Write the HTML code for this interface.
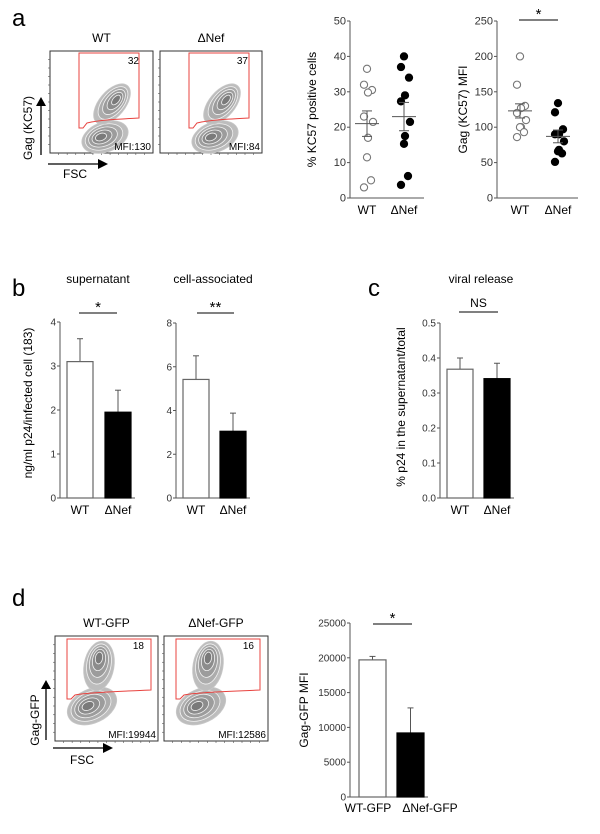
<!DOCTYPE html>
<html><head><meta charset="utf-8"><style>
body{margin:0;background:#fff}
svg{display:block;font-family:"Liberation Sans",Arial,sans-serif}
</style></head><body>
<svg id="fig" width="600" height="834" viewBox="0 0 600 834" xmlns="http://www.w3.org/2000/svg">
<g id="root"></g>
</svg>
<script>
// ---- data ----
var scatterCats = ["WT", "\u0394Nef"];
var kcWT = [36.5, 32, 30.5, 29.8, 23, 21.5, 17, 11.5, 5, 3];
var kcNef = [40, 37, 34, 29, 27.3, 21.5, 17.5, 15.3, 6.2, 3.7];
var kcMean = [21, 23];
var kcSem = [3.6, 4];
var kcTicks = [0, 10, 20, 30, 40, 50];
var mfiWT = [200, 160, 130, 127, 120, 110, 100, 100, 93, 86];
var mfiNef = [134, 121, 97, 90, 90, 80, 68, 66, 63, 51];
var mfiMean = [123, 87];
var mfiSem = [10, 9];
var mfiTicks = [0, 50, 100, 150, 200, 250];
var supVals = [3.1, 1.95];
var supErr = [0.52, 0.5];
var supTicks = [0, 1, 2, 3, 4];
var cellVals = [5.42, 3.05];
var cellErr = [1.08, 0.83];
var cellTicks = [0, 2, 4, 6, 8];
var relVals = [0.368, 0.341];
var relErr = [0.032, 0.044];
var relTicks = ["0.0", "0.1", "0.2", "0.3", "0.4", "0.5"];
var gfpCats = ["WT-GFP", "\u0394Nef-GFP"];
var gfpVals = [19700, 9200];
var gfpErr = [500, 3600];
var gfpTicks = [0, 5000, 10000, 15000, 20000, 25000];

var NS = "http://www.w3.org/2000/svg";
var root = document.getElementById('root');
function mk(tag, attrs, parent, text) {
  var e = document.createElementNS(NS, tag);
  for (var k in attrs) e.setAttribute(k, attrs[k]);
  if (text !== undefined) e.textContent = text;
  (parent || root).appendChild(e);
  return e;
}
function txt(x, y, s, size, anchor, name, extra) {
  var t = mk('text', {x: x, y: y, 'font-size': size, 'text-anchor': anchor || 'middle', fill: '#000'}, null, s);
  
  
  if (extra) for (var k in extra) t.setAttribute(k, extra[k]);
  return t;
}
function line(x1, y1, x2, y2, c, w, name) {
  var l = mk('line', {x1: x1, y1: y1, x2: x2, y2: y2, stroke: c, 'stroke-width': w});
  
  
  return l;
}

// panel letters
txt(12, 26, 'a', 24, 'start', 'panel-label-a');
txt(12, 296, 'b', 24, 'start', 'panel-label-b');
txt(368, 296, 'c', 24, 'start', 'panel-label-c');
txt(12, 606, 'd', 24, 'start', 'panel-label-d');

// ---- flow plots ----
var shades = ['#bdbdbd', '#acacac', '#9c9c9c', '#8c8c8c', '#7a7a7a'];
function flow(x0, y0, w, h, gate, blobs, pct, mfi, title, name) {
  var g = mk('g', {});
  
  
  mk('rect', {x: x0, y: y0, width: w, height: h, fill: '#fff', stroke: '#333', 'stroke-width': 1}, g);
  for (var i = 1; i < 12; i++) {
    mk('line', {x1: x0 + i * w / 12, y1: y0 + h, x2: x0 + i * w / 12, y2: y0 + h + 2, stroke: '#555', 'stroke-width': 0.6}, g);
    mk('line', {x1: x0 - 2, y1: y0 + i * h / 12, x2: x0, y2: y0 + i * h / 12, stroke: '#555', 'stroke-width': 0.6}, g);
  }
  blobs.forEach(function (b) {
    for (var k = 0; k < 5; k++) {
      var s = 1 - k * 0.19;
      var ox = b[5] ? b[5] * k : 0, oy = b[6] ? b[6] * k : 0;
      mk('ellipse', {cx: b[0] + ox, cy: b[1] + oy, rx: b[2] * s, ry: b[3] * s, transform: 'rotate(' + b[4] + ' ' + (b[0] + ox) + ' ' + (b[1] + oy) + ')',
        fill: shades[k], stroke: k === 0 ? '#c8c8c8' : '#f2f2f2', 'stroke-width': 0.8}, g);
    }
  });
  mk('path', {d: gate, fill: 'none', stroke: '#e8433f', 'stroke-width': 1}, g);
  mk('text', {x: x0 + w - 14, y: y0 + 13, 'font-size': 10, 'text-anchor': 'end'}, g, pct);
  mk('text', {x: x0 + w - 2, y: y0 + h - 3, 'font-size': 10, 'text-anchor': 'end'}, g, mfi);
  txt(x0 + w / 2, y0 - 9, title, 12, 'middle', name + '-title');
}
function gatePath(dx, x1, x2, top, br, bl) {
  return 'M' + (x1 + dx) + ',' + top + ' L' + (x2 + dx) + ',' + top + ' L' + (x2 + dx) + ',' + br +
    ' C' + (x2 + dx - 20) + ',' + (br + 1) + ' ' + (x1 + dx + 20) + ',' + (br + 2) + ' ' + (x1 + dx + 8) + ',' + (br + 5) +
    ' L' + (x1 + dx + 4) + ',' + bl + ' L' + (x1 + dx) + ',' + bl + ' Z';
}
flow(50, 51, 103, 102, gatePath(0, 79, 139, 53, 118, 128),
  [[105, 137, 24, 15, -20, -1, 0], [112, 104, 24, 13, -50, 1, -1]], '32', 'MFI:130', 'WT', 'flow-plot-wt');
flow(160, 51, 102, 102, gatePath(110, 79, 139, 53, 118, 128),
  [[215, 137, 24, 15, -20, -1, 0], [222, 104, 24, 13, -50, 1, -1]], '37', 'MFI:84', '\u0394Nef', 'flow-plot-nef');
flow(55, 636, 103, 105, gatePath(0, 67, 151, 639, 690, 699),
  [[92, 706, 26, 17, -25, -1, 0], [99, 666, 15, 25, 10, 0, -2]], '18', 'MFI:19944', 'WT-GFP', 'flow-plot-wt-gfp');
flow(164, 636, 104, 105, gatePath(109, 67, 151, 639, 690, 699),
  [[201, 706, 26, 17, -25, -1, 0], [208, 666, 15, 25, 10, 0, -2]], '16', 'MFI:12586', '\u0394Nef-GFP', 'flow-plot-nef-gfp');

function arrows(vx, vy1, vy2, hy, hx1, hx2, ylab, ylx, yly, flx, fly, name) {
  line(vx, vy1, vx, vy2 + 8, '#000', 1.3, name + '-y-arrow');
  var p = mk('path', {d: 'M' + (vx - 5) + ',' + (vy2 + 9) + ' L' + (vx + 5) + ',' + (vy2 + 9) + ' L' + vx + ',' + vy2 + ' Z', fill: '#000'});
   
  line(hx1, hy, hx2 - 9, hy, '#000', 1.3, name + '-x-arrow');
  var q = mk('path', {d: 'M' + (hx2 - 10) + ',' + (hy - 5) + ' L' + (hx2 - 10) + ',' + (hy + 5) + ' L' + hx2 + ',' + hy + ' Z', fill: '#000'});
   
  txt(ylx, yly, ylab, 12, 'middle', name + '-y-label', {transform: 'rotate(-90 ' + ylx + ' ' + yly + ')'});
  txt(flx, fly, 'FSC', 12, 'middle', name + '-x-label');
}
arrows(41, 155, 97, 164, 48, 108, 'Gag (KC57)', 32, 128, 75, 178, 'flow-a');
arrows(46, 740, 680, 748, 53, 113, 'Gag-GFP', 39, 720, 82, 764, 'flow-d');

// ---- generic y axis ----
function yAxis(ax, y0, y1, ticks, max, title, tx, ty, fs, name) {
  function sy(v) { return y0 - (v / max) * (y0 - y1); }
  line(ax, y0, ax, y1, '#555', 1, name + '-y-axis');
  ticks.forEach(function (t) {
    var v = parseFloat(t);
    line(ax - 3, sy(v), ax, sy(v), '#555', 1, name + '-y-tick');
    txt(ax - 4, sy(v) + 3.5, String(t), fs, 'end', name + '-y-tick-label', {fill: '#333'});
  });
  if (title) txt(tx, ty, title, 12, 'middle', name + '-y-title', {transform: 'rotate(-90 ' + tx + ' ' + ty + ')'});
  return sy;
}
function sig(x1, x2, y, s, name) {
  line(x1, y, x2, y, '#000', 1, name + '-line');
  txt((x1 + x2) / 2, y - (s === 'NS' ? 5 : 1), s, s === 'NS' ? 12 : 15, 'middle', name + '-text');
}

// ---- scatter a ----
var jit = [0, -3, 5, 1, -3, 6, 1, 0, 4, -3];
function scatter(ax, y0, y1, ticks, max, title, tx, wtVals, nefVals, means, sems, cx, name) {
  var sy = yAxis(ax, y0, y1, ticks, max, title, tx, (y0 + y1) / 2, 11, name);
  line(ax, y0, cx[1] + 20, y0, '#555', 1, name + '-x-axis');
  [wtVals, nefVals].forEach(function (arr, gi) {
    arr.forEach(function (v, i) {
      var c = mk('circle', {cx: cx[gi] + jit[i], cy: sy(v), r: 3.6, fill: gi ? '#000' : '#fff', stroke: gi ? '#000' : '#777', 'stroke-width': 1.1});
      
      
    });
    line(cx[gi] - 12, sy(means[gi]), cx[gi] + 12, sy(means[gi]), '#555', 1, name + '-mean');
    line(cx[gi], sy(means[gi] - sems[gi]), cx[gi], sy(means[gi] + sems[gi]), '#555', 1, name + '-sem');
    line(cx[gi] - 5, sy(means[gi] - sems[gi]), cx[gi] + 5, sy(means[gi] - sems[gi]), '#555', 1, name + '-sem-cap');
    line(cx[gi] - 5, sy(means[gi] + sems[gi]), cx[gi] + 5, sy(means[gi] + sems[gi]), '#555', 1, name + '-sem-cap');
    txt(cx[gi], y0 + 16, scatterCats[gi], 12, 'middle', name + '-x-label');
  });
}
scatter(350, 198, 21, kcTicks, 50, '% KC57 positive cells', 316, kcWT, kcNef, kcMean, kcSem, [367, 404], 'scatter-kc57');
scatter(497, 198, 21, mfiTicks, 250, 'Gag (KC57) MFI', 467, mfiWT, mfiNef, mfiMean, mfiSem, [520, 558], 'scatter-mfi');
sig(519, 558, 20, '*', 'scatter-mfi-sig');

// ---- bar charts ----
function bars(ax, y0, y1, ticks, max, vals, errs, bx, bw, cats, labelY, labelX, name) {
  var sy = function (v) { return y0 - (v / max) * (y0 - y1); };
  line(ax, y0, bx[1] + bw + 4, y0, '#555', 1, name + '-x-axis');
  vals.forEach(function (v, i) {
    var xc = bx[i] + bw / 2;
    line(xc, sy(v), xc, sy(v + errs[i]), '#555', 1, name + '-error-bar');
    line(xc - 3, sy(v + errs[i]), xc + 3, sy(v + errs[i]), '#555', 1, name + '-error-cap');
    var r = mk('rect', {x: bx[i], y: sy(v), width: bw, height: y0 - sy(v), fill: i ? '#000' : '#fff', stroke: i ? '#000' : '#666', 'stroke-width': 1.2});
    
    
    txt(labelX ? labelX[i] : xc, labelY, cats[i], 12, 'middle', name + '-x-label');
  });
}
yAxis(60, 498, 322, supTicks, 4, 'ng/ml p24/infected cell (183)', 32, 403, 10, 'bar-sup');
bars(60, 498, 322, supTicks, 4, supVals, supErr, [67, 105], 26, scatterCats, 514, null, 'bar-sup');
txt(98, 283, 'supernatant', 12, 'middle', 'bar-sup-title');
sig(79, 117, 313, '*', 'bar-sup-sig');

yAxis(176, 498, 323, cellTicks, 8, '', 0, 0, 10, 'bar-cell');
bars(176, 498, 323, cellTicks, 8, cellVals, cellErr, [183, 220], 26, scatterCats, 514, null, 'bar-cell');
txt(213, 283, 'cell-associated', 12, 'middle', 'bar-cell-title');
sig(197, 234, 313, '**', 'bar-cell-sig');

yAxis(440, 498, 323, relTicks, 0.5, '% p24 in the supernatant/total', 405, 407, 10, 'bar-rel');
bars(440, 498, 323, relTicks, 0.5, relVals, relErr, [447, 484], 26, scatterCats, 514, null, 'bar-rel');
txt(481, 283, 'viral release', 12, 'middle', 'bar-rel-title');
sig(459, 498, 312, 'NS', 'bar-rel-sig');

yAxis(350, 797, 623, gfpTicks, 25000, 'Gag-GFP MFI', 308, 710, 10, 'bar-gfp');
bars(350, 797, 623, gfpTicks, 25000, gfpVals, gfpErr, [359, 397], 27, gfpCats, 812, [368, 430], 'bar-gfp');
sig(373, 412, 624, '*', 'bar-gfp-sig');
</script>
</body></html>
